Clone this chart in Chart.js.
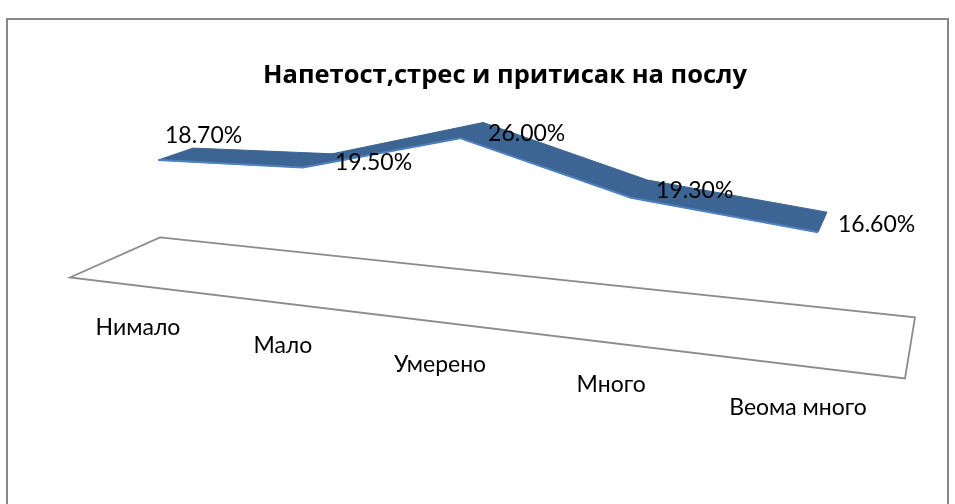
<!DOCTYPE html>
<html><head><meta charset="utf-8">
<script src="https://cdn.jsdelivr.net/npm/chart.js@4/dist/chart.umd.min.js"></script>
<style>html,body{margin:0;padding:0;background:#fff;overflow:hidden}#wrap{width:955px;height:504px;position:relative}</style>
</head><body><div id="wrap"><canvas id="c" width="955" height="504"></canvas></div>
<script>
// ---- data ----
const chartTitle = 'Напетост,стрес и притисак на послу';
const categories = ['Нимало', 'Мало', 'Умерено', 'Много', 'Веома много'];
const values = [18.7, 19.5, 26.0, 19.3, 16.6];
const valueLabels = ['18.70%', '19.50%', '26.00%', '19.30%', '16.60%'];
const valueAxisMin = 0;
const valueAxisMax = 30;

// ---- style / 3D view constants ----
const FONT = 'Lato, "Open Sans", sans-serif';
const TITLE_FONT = 'bold 25.5px "Open Sans", sans-serif';
const VIEW = { persp: 1.185, shear: 0.088, depthL: [35, -12], depthR: [9, -20] };
const LABEL_OFFSETS = [[7, -25], [32, -5], [28, -5], [25, -7], [20, -8]];

function project(area, x, y) {
  const t = (x - area.left) / (area.right - area.left);
  const g = t / (t + VIEW.persp * (1 - t));
  const X = area.left + g * (area.right - area.left);
  return { x: X, y: y + VIEW.shear * (X - area.left), g };
}
function floorQuad(a) {
  return {
    bl: [a.left + 2, a.bottom - 47],
    br: [a.right + 97, a.bottom + 33],
    fr: [a.right + 87, a.bottom + 94],
    fl: [a.left - 88, a.bottom - 7]
  };
}

const view3d = {
  id: 'view3d',
  beforeDraw(chart) {
    const ctx = chart.ctx;
    ctx.save();
    ctx.fillStyle = '#fff';
    ctx.fillRect(0, 0, chart.width, chart.height);
    ctx.strokeStyle = '#878787';
    ctx.lineWidth = 2;
    ctx.strokeRect(7, 19, 941, 520);
    // title
    ctx.fillStyle = '#000';
    ctx.font = TITLE_FONT;
    ctx.textAlign = 'center';
    ctx.textBaseline = 'middle';
    ctx.fillText(chartTitle, 505, 76);
    // floor
    const a = chart.chartArea, f = floorQuad(a);
    ctx.beginPath();
    ctx.moveTo(...f.bl); ctx.lineTo(...f.br); ctx.lineTo(...f.fr); ctx.lineTo(...f.fl); ctx.closePath();
    ctx.strokeStyle = '#8c8c8c';
    ctx.lineWidth = 1.8;
    ctx.stroke();
    // category labels along the floor front edge
    const xs = chart.scales.x;
    ctx.font = '23px ' + FONT;
    ctx.fillStyle = '#000';
    categories.forEach((c, i) => {
      const p = project(a, xs.getPixelForValue(i), 0);
      const X = p.x - 20;
      const fy = f.fl[1] + (X - f.fl[0]) * (f.fr[1] - f.fl[1]) / (f.fr[0] - f.fl[0]);
      ctx.fillText(xs.getLabelForValue(i), X, fy + 42);
    });
    ctx.restore();
  },
  afterDatasetsUpdate(chart) {
    const a = chart.chartArea;
    const meta = chart.getDatasetMeta(0);
    meta.data.forEach(pt => {
      const p = project(a, pt.x, pt.y);
      pt.x = p.x; pt.y = p.y; pt.$g = p.g;
    });
  },
  beforeDatasetsDraw(chart) {
    const ctx = chart.ctx;
    const pts = chart.getDatasetMeta(0).data;
    const back = pts.map(p => {
      const g = p.$g || 0;
      return [p.x + VIEW.depthL[0] + (VIEW.depthR[0] - VIEW.depthL[0]) * g,
              p.y + VIEW.depthL[1] + (VIEW.depthR[1] - VIEW.depthL[1]) * g];
    });
    ctx.save();
    for (let i = 0; i < pts.length - 1; i++) {
      ctx.beginPath();
      ctx.moveTo(pts[i].x, pts[i].y);
      ctx.lineTo(pts[i + 1].x, pts[i + 1].y);
      ctx.lineTo(back[i + 1][0], back[i + 1][1]);
      ctx.lineTo(back[i][0], back[i][1]);
      ctx.closePath();
      ctx.fillStyle = '#3D6594';
      ctx.strokeStyle = '#3D6594';
      ctx.lineWidth = 1;
      ctx.fill();
      ctx.stroke();
    }
    ctx.restore();
  },
  afterDatasetsDraw(chart) {
    const ctx = chart.ctx;
    const pts = chart.getDatasetMeta(0).data;
    ctx.save();
    ctx.font = '23px ' + FONT;
    ctx.fillStyle = '#000';
    ctx.textAlign = 'left';
    ctx.textBaseline = 'middle';
    pts.forEach((p, i) => {
      const o = LABEL_OFFSETS[i];
      ctx.fillText(valueLabels[i], p.x + o[0], p.y + o[1]);
    });
    ctx.restore();
  }
};

new Chart(document.getElementById('c'), {
  type: 'line',
  data: {
    labels: categories,
    datasets: [{
      label: chartTitle,
      data: values,
      borderColor: '#4F82C0',
      borderWidth: 2,
      pointRadius: 0,
      tension: 0,
      fill: false
    }]
  },
  options: {
    responsive: false,
    animation: false,
    events: [],
    layout: { padding: { left: 158, right: 137, top: 85, bottom: 219.6 } },
    plugins: { legend: { display: false }, title: { display: false }, tooltip: { enabled: false } },
    scales: {
      x: { type: 'category', display: false, offset: false },
      y: { type: 'linear', display: false, min: valueAxisMin, max: valueAxisMax }
    }
  },
  plugins: [view3d]
});
</script>
</body></html>
